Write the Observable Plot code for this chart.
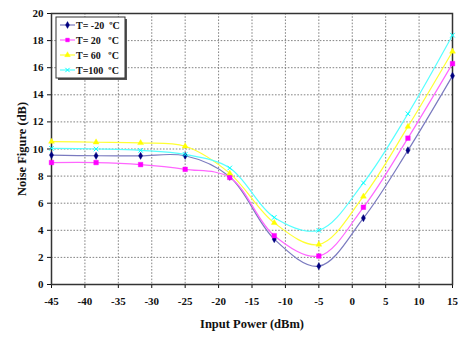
<!DOCTYPE html>
<html><head><meta charset="utf-8">
<script src="https://cdn.jsdelivr.net/npm/d3@7"></script>
<script src="https://cdn.jsdelivr.net/npm/@observablehq/plot@0.6"></script>
<style>
body{margin:0;background:#fff}
#chart svg{overflow:visible}
</style>
</head><body><div id="chart"></div>
<script>
// Data
const inputPower = [-45, -38.33, -31.67, -25, -18.33, -11.67, -5, 1.67, 8.33, 15];
const nfTm20 = [9.55, 9.5, 9.5, 9.5, 7.95, 3.35, 1.35, 4.9, 9.9, 15.4];
const nfT20  = [9.0, 9.0, 8.85, 8.5, 7.9, 3.6, 2.1, 5.7, 10.8, 16.3];
const nfT60  = [10.55, 10.5, 10.45, 10.2, 8.2, 4.55, 2.95, 6.5, 11.65, 17.2];
const nfT100 = [10.05, 10.0, 9.9, 9.6, 8.6, 4.95, 4.0, 7.5, 12.6, 18.4];
const seriesNames = ["T= -20  ºC", "T= 20   ºC", "T= 60   ºC", "T=100  ºC"];
const seriesValues = [nfTm20, nfT20, nfT60, nfT100];
const xTicks = [-45, -40, -35, -30, -25, -20, -15, -10, -5, 0, 5, 10, 15];
const yTicks = [0, 2, 4, 6, 8, 10, 12, 14, 16, 18, 20];
const xLabel = "Input Power (dBm)";
const yLabel = "Noise Figure (dB)";

const lineColors = ["#7a7abf", "#ff66ff", "#ffff33", "#55ffff"];
const markColors = ["#000080", "#ff00ff", "#ffff00", "#00ffff"];
const symbols = ["diamond", "square", "triangle", "times"];
const serif = "'Liberation Serif', 'Times New Roman', 'DejaVu Serif', serif";

const data = [];
seriesNames.forEach((s, i) => seriesValues[i].forEach((v, j) => data.push({series: s, x: inputPower[j], y: v})));

const plot = Plot.plot({
  width: 458, height: 340,
  marginTop: 13, marginBottom: 56, marginLeft: 51, marginRight: 6,
  style: {fontSize: "11px", color: "#111", fontFamily: serif, fontWeight: "bold"},
  x: {domain: [-45, 15]},
  y: {domain: [0, 20]},
  color: {domain: seriesNames, range: lineColors},
  symbol: {domain: seriesNames, range: symbols},
  marks: [
    Plot.gridX(xTicks, {stroke: "#777", strokeOpacity: 0.9, strokeDasharray: "1.6,1.6"}),
    Plot.gridY(yTicks, {stroke: "#777", strokeOpacity: 0.9, strokeDasharray: "1.6,1.6"}),
    Plot.axisX(xTicks, {tickSize: 4, tickPadding: 9, tickFormat: d => String(d), label: xLabel, labelAnchor: "center", labelArrow: "none", labelOffset: 43, fontSize: 11}),
    Plot.axisY(yTicks, {tickSize: 4, tickPadding: 4, tickFormat: d => String(d), label: yLabel, labelAnchor: "center", labelArrow: "none", labelOffset: 34, fontSize: 11}),
    Plot.frame({stroke: "#333", strokeWidth: 1.5}),
    Plot.line(data, {x: "x", y: "y", z: "series", stroke: "series", strokeWidth: 1.2, curve: "catmull-rom"}),
    ...seriesNames.map((s, i) => Plot.dot(data.filter(d => d.series === s), {
      x: "x", y: "y", symbol: () => s,
      r: i === 1 ? 2.6 : 2.2,
      fill: i === 3 ? "none" : markColors[i],
      stroke: markColors[i], strokeWidth: i === 3 ? 1 : 0.4
    }))
  ]
});
document.getElementById("chart").append(plot);

// Legend
const svg = d3.select(plot);
const lg = svg.append("g").attr("font-size", 10).attr("font-weight", "bold").attr("text-anchor", "start");
lg.append("rect").attr("x", 58).attr("y", 19).attr("width", 69).attr("height", 61).attr("fill", "#555");
lg.append("rect").attr("x", 56).attr("y", 17).attr("width", 69).attr("height", 61).attr("fill", "#fff").attr("stroke", "#333").attr("stroke-width", 1);
const symGen = [d3.symbolDiamond, d3.symbolSquare, d3.symbolTriangle, d3.symbolTimes];
seriesNames.forEach((s, i) => {
  const y = 25 + i * 15;
  lg.append("line").attr("x1", 60).attr("x2", 75).attr("y1", y).attr("y2", y).attr("stroke", lineColors[i]).attr("stroke-width", 1.2);
  lg.append("path").attr("transform", `translate(67.5,${y})`).attr("d", d3.symbol(symGen[i], 14)())
    .attr("fill", i === 3 ? "none" : markColors[i]).attr("stroke", markColors[i]).attr("stroke-width", i === 3 ? 1 : 0.4);
  lg.append("text").attr("x", 76).attr("y", y).attr("dy", "0.35em").attr("fill", "#111").attr("text-anchor", "start").style("white-space", "pre").text(s);
});
svg.selectAll("text").each(function() { this.style.setProperty("font-family", serif, "important"); this.style.setProperty("font-weight", "bold", "important"); });
svg.selectAll("[aria-label='x-axis label'] text, [aria-label='y-axis label'] text").each(function() { this.style.setProperty("font-size", "12.5px", "important"); });
</script>
</body></html>
